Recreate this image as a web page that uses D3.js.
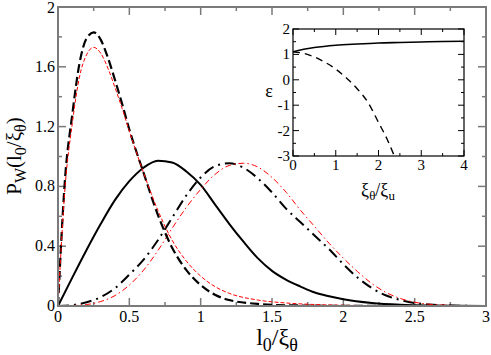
<!DOCTYPE html>
<html>
<head>
<meta charset="utf-8">
<script src="https://cdn.jsdelivr.net/npm/d3@7"></script>
<style>
  body { margin: 0; background: #fff; }
</style>
</head>
<body>
<div id="chart"></div>
<script>
// main panel: x = l0/xi_theta
const xDashBlack = [0, 0.05, 0.1, 0.15, 0.2, 0.25, 0.3, 0.35, 0.4, 0.45, 0.5, 0.6, 0.7, 0.8, 0.9, 1.0, 1.1, 1.2, 1.4, 1.6, 2.0, 2.5, 3.0];
const yDashBlack = [0, 0.86, 1.28, 1.62, 1.79, 1.83, 1.78, 1.66, 1.51, 1.35, 1.18, 0.89, 0.61, 0.39, 0.24, 0.14, 0.075, 0.04, 0.014, 0.005, 0.001, 0, 0];

const xDashRed = [0, 0.05, 0.1, 0.15, 0.2, 0.25, 0.3, 0.35, 0.4, 0.45, 0.5, 0.6, 0.7, 0.8, 0.9, 1.0, 1.1, 1.2, 1.4, 1.6, 1.8, 2.0, 2.5, 3.0];
const yDashRed = [0, 0.80, 1.22, 1.53, 1.68, 1.73, 1.69, 1.59, 1.46, 1.32, 1.17, 0.89, 0.64, 0.44, 0.30, 0.20, 0.13, 0.085, 0.04, 0.02, 0.01, 0.005, 0.001, 0];

const xSolid = [0, 0.1, 0.2, 0.3, 0.4, 0.5, 0.6, 0.7, 0.8, 0.9, 1.0, 1.1, 1.2, 1.3, 1.4, 1.5, 1.6, 1.7, 1.8, 1.9, 2.0, 2.2, 2.4, 2.6, 3.0];
const ySolid = [0, 0.19, 0.375, 0.55, 0.71, 0.835, 0.925, 0.972, 0.96, 0.90, 0.81, 0.68, 0.55, 0.43, 0.32, 0.235, 0.175, 0.13, 0.09, 0.065, 0.045, 0.02, 0.008, 0.003, 0];

const xDotBlack = [0, 0.1, 0.2, 0.3, 0.4, 0.5, 0.6, 0.7, 0.8, 0.9, 1.0, 1.1, 1.2, 1.3, 1.4, 1.5, 1.6, 1.7, 1.8, 1.9, 2.0, 2.1, 2.2, 2.3, 2.4, 2.5, 2.6, 2.8, 3.0];
const yDotBlack = [0, 0.006, 0.025, 0.06, 0.12, 0.21, 0.31, 0.44, 0.59, 0.74, 0.86, 0.935, 0.955, 0.925, 0.855, 0.76, 0.65, 0.56, 0.47, 0.38, 0.28, 0.19, 0.12, 0.07, 0.04, 0.02, 0.01, 0.002, 0];

const xDotRed = [0, 0.2, 0.3, 0.4, 0.5, 0.6, 0.7, 0.8, 0.9, 1.0, 1.1, 1.2, 1.3, 1.4, 1.5, 1.6, 1.7, 1.8, 1.9, 2.0, 2.1, 2.2, 2.3, 2.4, 2.5, 2.6, 2.8, 3.0];
const yDotRed = [0, 0.01, 0.03, 0.07, 0.14, 0.24, 0.37, 0.52, 0.66, 0.78, 0.88, 0.94, 0.955, 0.93, 0.86, 0.76, 0.64, 0.53, 0.42, 0.32, 0.23, 0.15, 0.09, 0.05, 0.025, 0.012, 0.003, 0];

const xTicks = [0, 0.5, 1, 1.5, 2, 2.5, 3];
const xTickLabels = ["0", "0.5", "1", "1.5", "2", "2.5", "3"];
const yTicks = [0, 0.4, 0.8, 1.2, 1.6, 2];
const yTickLabels = ["0", "0.4", "0.8", "1.2", "1.6", "2"];

// inset: x = xi_theta/xi_u, y = epsilon
const xInSolid = [0, 0.25, 0.5, 1, 1.5, 2, 2.5, 3, 3.5, 4];
const yInSolid = [1.1, 1.2, 1.27, 1.36, 1.41, 1.45, 1.47, 1.49, 1.51, 1.52];
const xInDash = [0, 0.25, 0.5, 0.75, 1, 1.25, 1.5, 1.75, 2, 2.2, 2.37];
const yInDash = [1.1, 1.04, 0.90, 0.69, 0.42, 0.07, -0.35, -0.88, -1.68, -2.33, -3.0];
const inXTicks = [0, 1, 2, 3, 4];
const inYTicks = [2, 1, 0, -1, -2, -3];

const W = 491, H = 355;
const svg = d3.select("#chart").append("svg")
    .attr("width", W).attr("height", H)
    .attr("font-family", "'Liberation Serif', 'Times New Roman', Times, 'DejaVu Serif', serif");

const x = d3.scaleLinear().domain([0, 3]).range([58, 486]);
const y = d3.scaleLinear().domain([0, 2]).range([306, 7]);

const frameColor = "#7a7a7a";

// ticks (inward, mirrored on all sides)
function ticks(g, scale, vals, len, horizontal, pos, dir, color, w) {
    vals.forEach(v => {
        const p = scale(v);
        if (horizontal) {
            g.append("line").attr("x1", p).attr("x2", p)
                .attr("y1", pos).attr("y2", pos + dir * len)
                .attr("stroke", color).attr("stroke-width", w);
        } else {
            g.append("line").attr("y1", p).attr("y2", p)
                .attr("x1", pos).attr("x2", pos + dir * len)
                .attr("stroke", color).attr("stroke-width", w);
        }
    });
}

const axes = svg.append("g");
const xMinor = d3.range(0.25, 3, 0.5);
const yMinor = d3.range(0.2, 2, 0.4);
ticks(axes, x, xTicks, 8, true, 306, -1, frameColor, 1.5);
ticks(axes, x, xTicks, 8, true, 7, 1, frameColor, 1.5);
ticks(axes, x, xMinor, 4, true, 306, -1, frameColor, 1.5);
ticks(axes, x, xMinor, 4, true, 7, 1, frameColor, 1.5);
ticks(axes, y, yTicks, 8, false, 58, 1, frameColor, 1.5);
ticks(axes, y, yTicks, 8, false, 486, -1, frameColor, 1.5);
ticks(axes, y, yMinor, 4, false, 58, 1, frameColor, 1.5);
ticks(axes, y, yMinor, 4, false, 486, -1, frameColor, 1.5);

axes.selectAll(".xl").data(xTicks).enter().append("text")
    .attr("x", d => x(d)).attr("y", 322)
    .attr("text-anchor", "middle").style("font-size", "16px")
    .text((d, i) => xTickLabels[i]);
axes.selectAll(".yl").data(yTicks).enter().append("text")
    .attr("x", 55).attr("y", d => Math.max(y(d) + 5, 13))
    .attr("text-anchor", "end").style("font-size", "16px")
    .text((d, i) => yTickLabels[i]);

// curves
const line = d3.line().x(d => x(d[0])).y(d => y(d[1])).curve(d3.curveMonotoneX);
const zip = (a, b) => a.map((v, i) => [v, b[i]]);

const plot = svg.append("g");
plot.append("path").datum(zip(xSolid, ySolid)).attr("d", line)
    .attr("fill", "none").attr("stroke", "#000").attr("stroke-width", 2);
plot.append("path").datum(zip(xDotBlack, yDotBlack)).attr("d", line)
    .attr("fill", "none").attr("stroke", "#000").attr("stroke-width", 2)
    .attr("stroke-dasharray", "11,5,2,5");
plot.append("path").datum(zip(xDotRed, yDotRed)).attr("d", line)
    .attr("fill", "none").attr("stroke", "#ff0000").attr("stroke-width", 1)
    .attr("stroke-dasharray", "6,3,1.5,3");
plot.append("path").datum(zip(xDashBlack, yDashBlack)).attr("d", line)
    .attr("fill", "none").attr("stroke", "#000").attr("stroke-width", 2.2)
    .attr("stroke-dasharray", "9,4");
plot.append("path").datum(zip(xDashRed, yDashRed)).attr("d", line)
    .attr("fill", "none").attr("stroke", "#ff0000").attr("stroke-width", 1)
    .attr("stroke-dasharray", "4,2");

// frame
svg.append("rect").attr("x", 58).attr("y", 7).attr("width", 428).attr("height", 299)
    .attr("fill", "none").attr("stroke", frameColor).attr("stroke-width", 2);

// axis labels
const yLab = svg.append("text")
    .attr("transform", "translate(21,156) rotate(-90)")
    .attr("text-anchor", "middle").style("font-size", "21px");
yLab.append("tspan").text("P");
yLab.append("tspan").attr("dy", 5).style("font-size", "16px").text("W");
yLab.append("tspan").attr("dy", -5).text("(l");
yLab.append("tspan").attr("dy", 5).style("font-size", "16px").text("0");
yLab.append("tspan").attr("dy", -5).text("/ξ");
yLab.append("tspan").attr("dy", 5).style("font-size", "16px").text("θ");
yLab.append("tspan").attr("dy", -5).text(")");

const xLab = svg.append("text")
    .attr("x", 277).attr("y", 345)
    .attr("text-anchor", "middle").style("font-size", "24px");
xLab.append("tspan").text("l");
xLab.append("tspan").attr("dy", 6).style("font-size", "18px").text("0");
xLab.append("tspan").attr("dy", -6).text("/ξ");
xLab.append("tspan").attr("dy", 6).style("font-size", "18px").text("θ");

// inset
const ix = d3.scaleLinear().domain([0, 4]).range([293, 464]);
const iy = d3.scaleLinear().domain([-3, 2]).range([156, 29]);
const inset = svg.append("g");
inset.append("rect").attr("x", 293).attr("y", 29).attr("width", 171).attr("height", 127)
    .attr("fill", "#fff").attr("stroke", "none");

const ixMinor = d3.range(0.5, 4, 1);
const iyMinor = d3.range(-2.5, 2, 1);
ticks(inset, ix, inXTicks, 6, true, 156, -1, "#000", 1);
ticks(inset, ix, inXTicks, 6, true, 29, 1, "#000", 1);
ticks(inset, ix, ixMinor, 3, true, 156, -1, "#000", 1);
ticks(inset, ix, ixMinor, 3, true, 29, 1, "#000", 1);
ticks(inset, iy, inYTicks, 6, false, 293, 1, "#000", 1);
ticks(inset, iy, inYTicks, 6, false, 464, -1, "#000", 1);
ticks(inset, iy, iyMinor, 3, false, 293, 1, "#000", 1);
ticks(inset, iy, iyMinor, 3, false, 464, -1, "#000", 1);

const iline = d3.line().x(d => ix(d[0])).y(d => iy(d[1])).curve(d3.curveMonotoneX);
inset.append("path").datum(zip(xInSolid, yInSolid)).attr("d", iline)
    .attr("fill", "none").attr("stroke", "#000").attr("stroke-width", 1.6);
inset.append("path").datum(zip(xInDash, yInDash)).attr("d", iline)
    .attr("fill", "none").attr("stroke", "#000").attr("stroke-width", 1.4)
    .attr("stroke-dasharray", "7,5");

inset.append("rect").attr("x", 293).attr("y", 29).attr("width", 171).attr("height", 127)
    .attr("fill", "none").attr("stroke", "#000").attr("stroke-width", 1.2);

inset.selectAll(".ixl").data(inXTicks).enter().append("text")
    .attr("x", d => ix(d)).attr("y", 170)
    .attr("text-anchor", "middle").style("font-size", "15px")
    .text(d => d);
inset.selectAll(".iyl").data(inYTicks).enter().append("text")
    .attr("x", 290).attr("y", d => iy(d) + 5)
    .attr("text-anchor", "end").style("font-size", "15px")
    .text(d => d);

inset.append("text").attr("x", 269).attr("y", 97)
    .attr("text-anchor", "middle").style("font-size", "18px").text("ε");
const ixLab = inset.append("text").attr("x", 378).attr("y", 196)
    .attr("text-anchor", "middle").style("font-size", "18px");
ixLab.append("tspan").text("ξ");
ixLab.append("tspan").attr("dy", 4).style("font-size", "13px").text("θ");
ixLab.append("tspan").attr("dy", -4).text("/ξ");
ixLab.append("tspan").attr("dy", 4).style("font-size", "13px").text("u");
</script>
</body>
</html>
